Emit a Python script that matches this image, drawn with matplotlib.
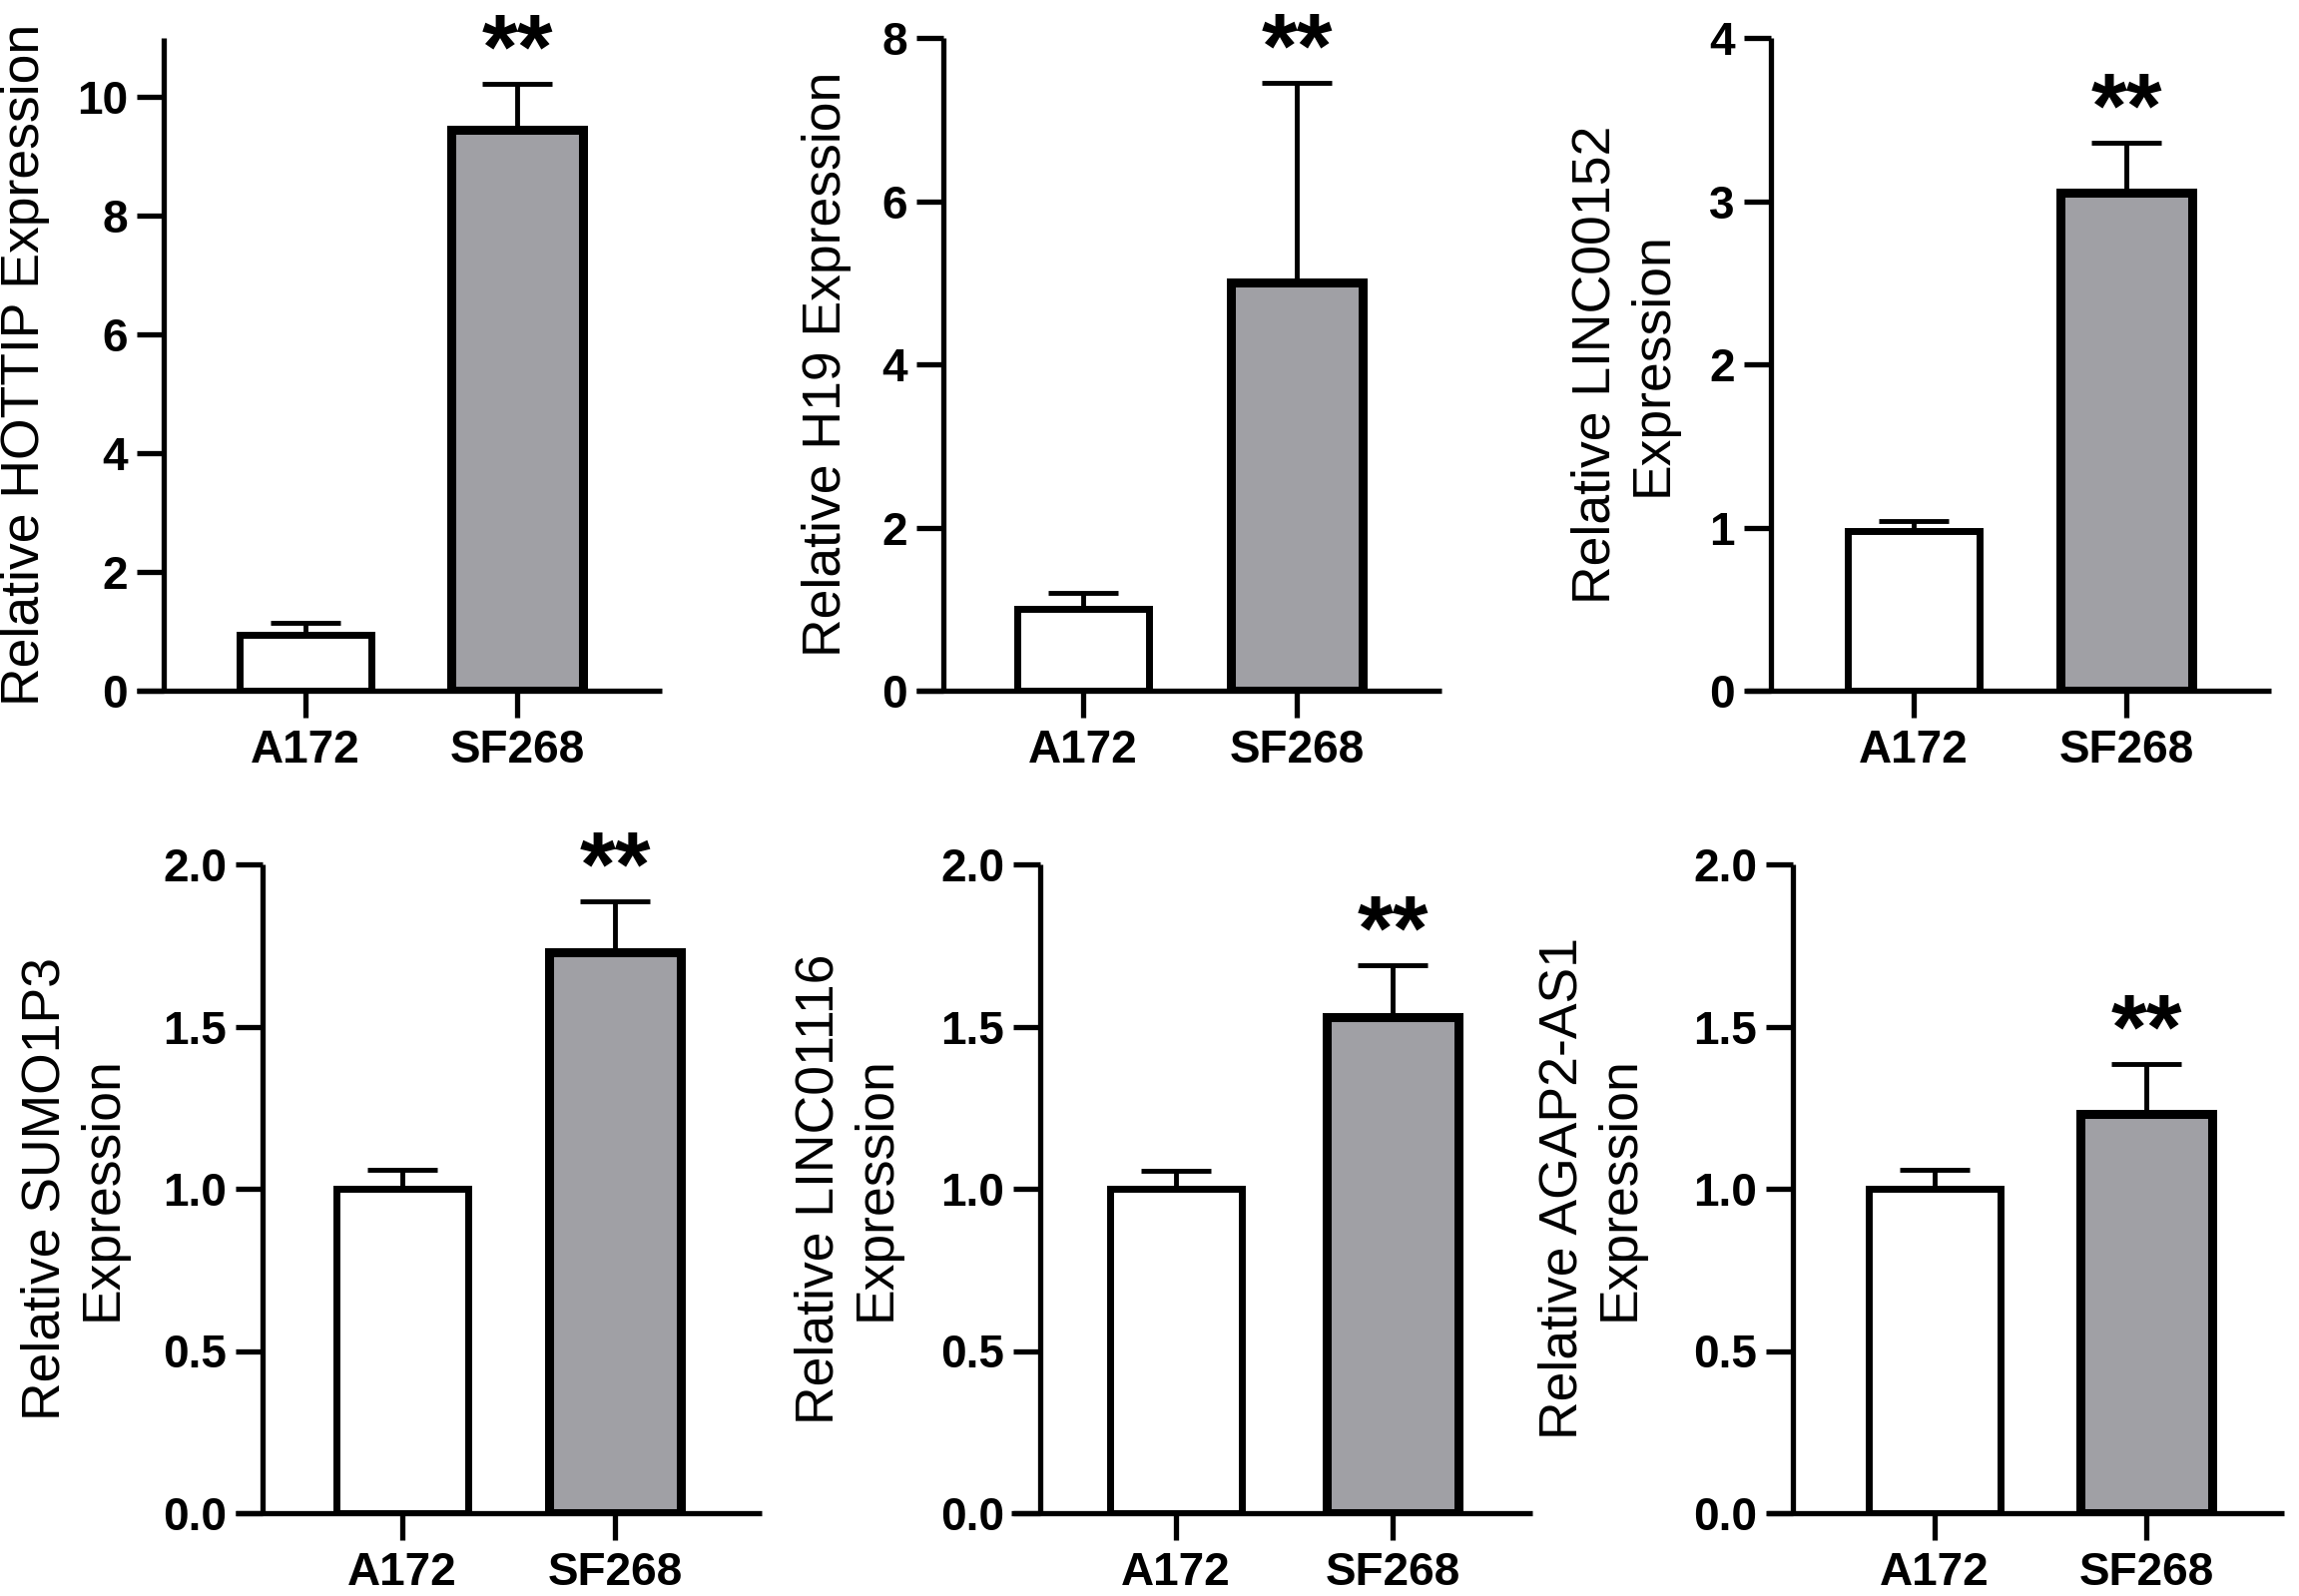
import numpy as np
import matplotlib.pyplot as plt
from matplotlib.transforms import blended_transform_factory

plt.rcParams['font.family'] = ['Liberation Sans', 'DejaVu Sans']

groups = ["A172", "SF268"]
ylabels = ["Relative HOTTIP Expression", "Relative H19 Expression",
           "Relative LINC00152\nExpression", "Relative SUMO1P3\nExpression",
           "Relative LINC01116\nExpression", "Relative AGAP2-AS1\nExpression"]
a172_mean = [0.95, 1.0, 0.98, 1.0, 1.0, 1.0]
a172_err = [0.19, 0.20, 0.06, 0.06, 0.055, 0.06]
sf268_mean = [9.45, 5.0, 3.05, 1.73, 1.53, 1.23]
sf268_err = [0.77, 2.45, 0.31, 0.155, 0.16, 0.155]
ymax = [11, 8, 4, 2, 2, 2]
ytop_tick = [10, 8, 4, 2, 2, 2]
ystep = [2, 2, 1, 0.5, 0.5, 0.5]
stars = ["**"] * 6

W, H = 2303, 1599
fig = plt.figure(figsize=(W / 100, H / 100), dpi=100)

# layout in pixels: bar centres, y axis, x axis start/end, row top/zero, label right edge
c0 = [306, 1085, 1917, 403, 1178, 1938]
c1 = [518, 1299, 2130, 616, 1395, 2150]
axx = [164, 945, 1774, 263, 1042, 1796]
xs = [137, 918, 1749, 236, 1013, 1770]
xe = [663, 1444, 2275, 763, 1535, 2288]
ytop = [38, 38, 38, 866, 866, 866]
yzero = [692, 692, 692, 1516, 1516, 1516]
lab_r = [50, 853, 1681, 128, 903, 1648]
bar_px = 132

for i in range(6):
    sp = c1[i] - c0[i]
    ax = fig.add_axes([xs[i] / W, 1 - yzero[i] / H,
                       (xe[i] - xs[i]) / W, (yzero[i] - ytop[i]) / H])
    ax.set_xlim((xs[i] - c0[i]) / sp, (xe[i] - c0[i]) / sp)
    ax.set_ylim(0, ymax[i])
    bw = bar_px / sp
    ax.bar(0, a172_mean[i], width=bw, color="white", edgecolor="black",
           linewidth=5, zorder=3)
    ax.bar(1, sf268_mean[i], width=bw, color="#a0a0a5", edgecolor="black",
           linewidth=6.5, zorder=3)
    ax.errorbar([0, 1], [a172_mean[i], sf268_mean[i]],
                yerr=[[0, 0], [a172_err[i], sf268_err[i]]],
                fmt="none", ecolor="black", elinewidth=3.5, capsize=25,
                capthick=3.5, zorder=2)
    ax.annotate(stars[i], xy=(1, sf268_mean[i] + sf268_err[i]),
                xytext=(0, 4), textcoords="offset points",
                ha="center", va="baseline", fontsize=66, fontweight="bold")

    for s in ["top", "right"]:
        ax.spines[s].set_visible(False)
    ax.spines["left"].set_position(("data", (axx[i] - c0[i]) / sp))
    for s in ["left", "bottom"]:
        ax.spines[s].set_linewidth(3.8)
        ax.spines[s].set_capstyle("butt")

    ticks = np.arange(0, ytop_tick[i] + 1e-9, ystep[i])
    ax.set_yticks(ticks)
    if ystep[i] < 1:
        ax.set_yticklabels(["%.1f" % t for t in ticks])
    else:
        ax.set_yticklabels(["%d" % t for t in ticks])
    ax.set_xticks([0, 1])
    ax.set_xticklabels(groups)
    ax.tick_params(axis="y", length=19.5, width=3.8, pad=6.5, labelsize=33)
    ax.tick_params(axis="x", length=19.5, width=3.8, pad=8, labelsize=33)
    for lab in ax.get_xticklabels() + ax.get_yticklabels():
        lab.set_fontweight("bold")

    ax.set_ylabel(ylabels[i], fontsize=38.5, linespacing=1.2)
    tr = blended_transform_factory(fig.transFigure, ax.transAxes)
    ax.yaxis.set_label_coords(lab_r[i] / W, 0.5, transform=tr)
    ax.patch.set_visible(False)

fig.savefig("out.png", dpi=100)
